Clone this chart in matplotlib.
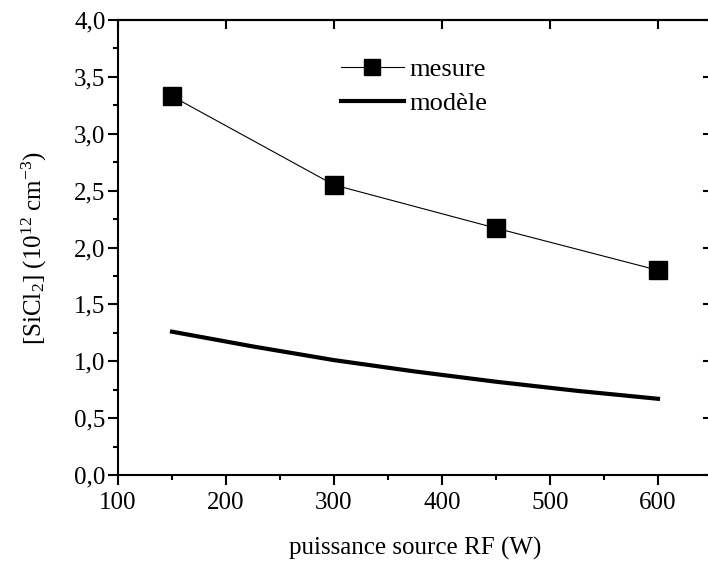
import matplotlib
matplotlib.use("Agg")
import matplotlib.pyplot as plt
from matplotlib.ticker import MultipleLocator, FuncFormatter

# données
puissance = [150, 300, 450, 600]
mesure = [3.33, 2.55, 2.17, 1.80]
puissance_modele = [150, 225, 300, 375, 450, 525, 600]
modele = [1.26, 1.13, 1.01, 0.91, 0.82, 0.74, 0.67]

plt.rcParams['font.family'] = ['Liberation Serif', 'DejaVu Serif']
plt.rcParams['mathtext.fontset'] = 'custom'
plt.rcParams['mathtext.rm'] = 'Liberation Serif'
plt.rcParams['mathtext.it'] = 'Liberation Serif:italic'

fig = plt.figure(figsize=(7.08, 5.63), dpi=100)
# l'axe de droite tombe juste hors de l'image, comme sur l'original
ax = fig.add_axes([118 / 708, 1 - 475 / 563, 594 / 708, 455 / 563])

ax.plot(puissance, mesure, color='black', lw=0.8, marker='s', ms=13,
        label='mesure')
ax.plot(puissance_modele, modele, color='black', lw=3.0, label='modèle')

ax.set_xlim(100, 650)
ax.set_ylim(0, 4.0)
ax.xaxis.set_major_locator(MultipleLocator(100))
ax.xaxis.set_minor_locator(MultipleLocator(50))
ax.yaxis.set_major_locator(MultipleLocator(0.5))
ax.yaxis.set_minor_locator(MultipleLocator(0.25))
ax.yaxis.set_major_formatter(FuncFormatter(lambda v, p: f"{v:.1f}".replace('.', ',')))

for s in ax.spines.values():
    s.set_linewidth(1.5)
ax.tick_params(which='major', direction='out', length=7, width=1.5,
               labelsize=18, pad=2)
ax.tick_params(axis='x', which='major', pad=5)
ax.tick_params(which='minor', direction='out', length=3.5, width=1.5)

ax.set_xlabel('puissance source RF (W)', fontsize=18, labelpad=17)
ax.set_ylabel(r'[SiCl$_2$] (10$^{12}$ cm$^{-3}$)', fontsize=18, labelpad=18)

# ticks du haut et de droite vers l'intérieur
sec_x = ax.secondary_xaxis('top')
sec_x.xaxis.set_major_locator(MultipleLocator(100))
sec_x.tick_params(direction='in', length=6.5, width=1.5, labeltop=False)
sec_x.spines['top'].set_linewidth(1.5)
sec_y = ax.secondary_yaxis('right')
sec_y.yaxis.set_major_locator(MultipleLocator(0.5))
sec_y.tick_params(direction='in', length=6.5, width=1.5, labelright=False)
sec_y.spines['right'].set_linewidth(1.5)

ax.legend(loc='upper left', bbox_to_anchor=(0.375, 0.917), frameon=False,
          fontsize=19, handlelength=2.4, handletextpad=0.2, labelspacing=0.39,
          borderaxespad=0, borderpad=0, markerscale=0.85)

fig.savefig('out.png', dpi=100)
